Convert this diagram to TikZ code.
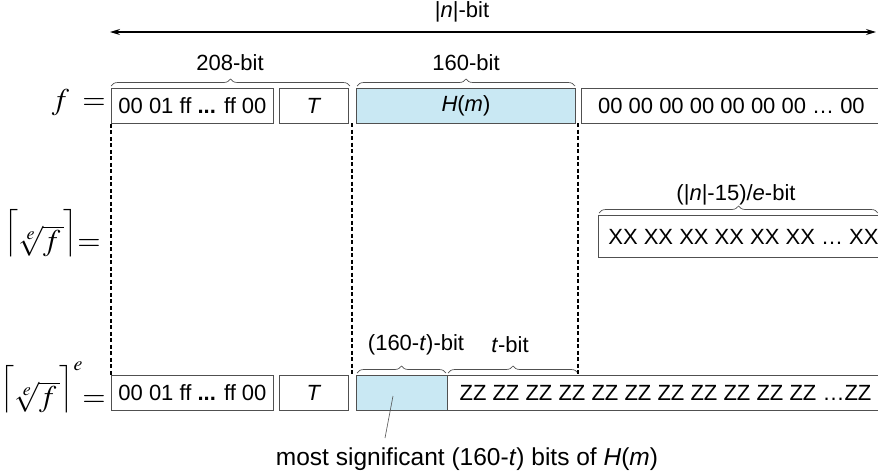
\documentclass[tikz,border=0pt]{standalone}
\usepackage{mathptmx}
\usepackage{fontspec}
\setmainfont{Liberation Sans}
\usetikzlibrary{decorations.pathreplacing,arrows.meta}
\definecolor{hblue}{HTML}{C9E8F3}
\definecolor{edge}{HTML}{505050}
\newcommand{\rootlab}{$\sqrt[e]{f\,}$}
\newcommand{\bigceil}[1]{\raisebox{10.5pt}{\scalebox{0.88}{$\Big#1$}}}
\newcommand{\supe}{\raisebox{36pt}{\fontsize{20}{20}\selectfont$e$}}
\begin{document}
\begin{tikzpicture}[x=1pt,y=-1pt,
  font=\fontsize{22}{26}\selectfont,
  bitbox/.style={draw=edge,line width=0.9pt,inner sep=0pt,anchor=north west,minimum height=35pt},
  hashbox/.style={bitbox,fill=hblue},
  guide/.style={line width=1.4pt,dash pattern=on 4pt off 2.5pt},
  bracelab/.style={inner sep=1pt},
  brc/.style={decorate,decoration={brace,amplitude=7pt},draw=edge,line width=0.7pt},
  mathlab/.style={inner sep=0pt,anchor=base east,font=\fontsize{30}{34}\selectfont}]
\clip (0,0) rectangle (878,474);
% top arrow
\coordinate (aL) at (110,32);
\coordinate (aR) at (876,32);
\draw[line width=1.2pt,{Stealth[length=10pt,width=6pt]}-{Stealth[length=10pt,width=6pt]}] (aL) -- (aR);
\node[bracelab] (nlab) at (462,12) {|\textit{n}|-bit};
% row 1
\node[bitbox,minimum width=162pt] (p1) at (111,88) {00 01 ff \textbf{...} ff 00};
\node[bitbox,minimum width=69pt] (t1) at (279,88) {\textit{T}};
\node[hashbox,minimum width=219pt] (h1) at (356,88) {\textit{H}(\textit{m})};
\node[bitbox,minimum width=300pt] (z1) at (581,88) {00 00 00 00 00 00 00 \dots\ 00};
\node[mathlab] (flab) at (106,109) {$f\;=$};
\draw[brc] (111,86) -- (350,86) coordinate[midway] (tip208);
\draw[brc] (357,86) -- (575,86) coordinate[midway] (tip160);
\node[bracelab] (b208) at (230,63) {208-bit};
\node[bracelab] (b160) at (466,63) {160-bit};
% row 2
\node[bitbox,minimum width=290pt,minimum height=42pt] (x2) at (598,215) {XX XX XX XX XX XX \dots\ XX};
\draw[brc] (599,213) -- (878,213) coordinate[midway] (tipx);
\node[bracelab] (bx) at (736,195) {(|\textit{n}|-15)/\textit{e}-bit};
\node[mathlab] (rlab) at (101,250) {\bigceil\lceil\rootlab\bigceil\rceil$=$};
% row 3
\node[bitbox,minimum width=162pt] (p3) at (111,375) {00 01 ff \textbf{...} ff 00};
\node[bitbox,minimum width=69pt] (t3) at (279,375) {\textit{T}};
\node[hashbox,minimum width=91pt] (h3) at (356,375) {};
\node[bitbox,minimum width=436pt] (z3) at (447,375) {ZZ ZZ ZZ ZZ ZZ ZZ ZZ ZZ ZZ ZZ ZZ \dots ZZ};
\node[mathlab] (slab) at (106,406) {\bigceil\lceil\rootlab\bigceil\rceil\supe$=$};
\draw[brc] (357,373) -- (446,373) coordinate[midway] (tipA);
\draw[brc] (448,373) -- (578,373) coordinate[midway] (tipB);
\node[bracelab] (lA) at (416,345) {(160-\textit{t})-bit};
\node[bracelab] (lB) at (510,345) {\textit{t}-bit};
% guides
\draw[guide] (p1.south west) -- (p3.north west);
\draw[guide] (352,123) -- (352,375);
\draw[guide] (578,123) -- (578,375);
% leader
\coordinate (ld1) at (393,396);
\node[bracelab,font=\fontsize{24.5}{28}\selectfont] (msb) at (467,459) {most significant (160-\textit{t}) bits of \textit{H}(\textit{m})};
\draw[line width=0.6pt,edge] (ld1) -- (385,438);
\end{tikzpicture}
\end{document}
